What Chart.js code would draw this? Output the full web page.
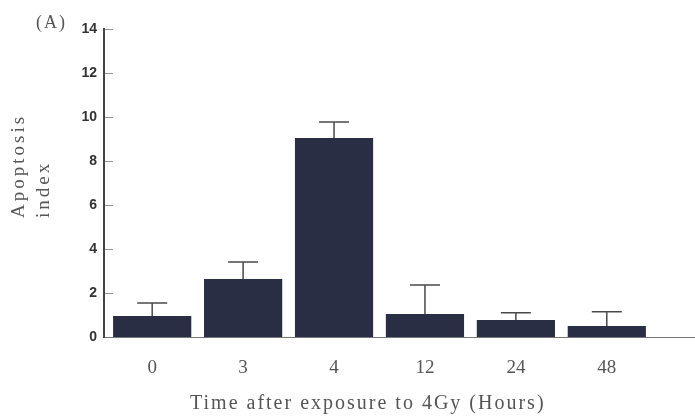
<!DOCTYPE html>
<html lang="en">
<head>
    <meta charset="UTF-8">
    <title>Apoptosis index after 4Gy</title>
    <script src="https://cdn.jsdelivr.net/npm/chart.js"></script>
    <style>
        html, body { margin: 0; padding: 0; background: #fff; }
        #wrap { width: 695px; height: 417px; position: relative; }
    </style>
</head>
<body>
    <div id="wrap"><canvas id="apoptosisChart"></canvas></div>

    <script>
        // values
        const timeLabels = ['0', '3', '4', '12', '24', '48'];
        const apoptosisIndex = [0.95, 2.64, 9.05, 1.05, 0.77, 0.5];
        const errorSD = [0.6, 0.77, 0.72, 1.31, 0.33, 0.65];
        const yTickValues = [0, 2, 4, 6, 8, 10, 12, 14];

        const serif = "'Liberation Serif', 'DejaVu Serif', serif";
        const textGrey = '#555';

        // error bars (upper half only) + inward y ticks
        const errorBars = {
            id: 'errorBars',
            afterDatasetsDraw(chart) {
                const ctx = chart.ctx;
                const x = chart.scales.x;
                const y = chart.scales.y;
                ctx.save();
                ctx.strokeStyle = '#4a4a4a';
                ctx.lineWidth = 1.5;
                apoptosisIndex.forEach((v, i) => {
                    const cx = x.getPixelForValue(i);
                    const yTop = y.getPixelForValue(v);
                    const yErr = y.getPixelForValue(v + errorSD[i]);
                    ctx.beginPath();
                    ctx.moveTo(cx, yTop);
                    ctx.lineTo(cx, yErr);
                    ctx.moveTo(cx - 15, yErr);
                    ctx.lineTo(cx + 15, yErr);
                    ctx.stroke();
                });

                ctx.strokeStyle = '#999';
                ctx.lineWidth = 1;
                const left = chart.chartArea.left;
                yTickValues.forEach(t => {
                    if (t === 0) return;
                    const py = Math.round(y.getPixelForValue(t)) + 0.5;
                    ctx.beginPath();
                    ctx.moveTo(left + 1, py);
                    ctx.lineTo(left + 9, py);
                    ctx.stroke();
                });
                ctx.restore();
            }
        };

        // panel letter and axis titles, spaced out like the print
        const figureText = {
            id: 'figureText',
            afterDraw(chart) {
                const ctx = chart.ctx;
                ctx.save();
                ctx.fillStyle = textGrey;
                ctx.textBaseline = 'alphabetic';

                ctx.font = '18px ' + serif;
                ctx.letterSpacing = '2px';
                ctx.textAlign = 'left';
                ctx.fillText('(A)', 36, 28);

                ctx.font = '20px ' + serif;
                ctx.letterSpacing = '2px';
                ctx.fillText('Time after exposure to 4Gy (Hours)', 190, 409);

                ctx.save();
                ctx.translate(0, 218);
                ctx.rotate(-Math.PI / 2);
                ctx.font = '19px ' + serif;
                ctx.letterSpacing = '3px';
                ctx.fillText('Apoptosis', 0, 24);
                ctx.fillText('index', 0, 49);
                ctx.restore();

                ctx.restore();
            }
        };

        const ctx = document.getElementById('apoptosisChart').getContext('2d');
        new Chart(ctx, {
            type: 'bar',
            data: {
                datasets: [{
                    data: apoptosisIndex.map((v, i) => ({ x: i, y: v })),
                    backgroundColor: '#2a2e45',
                    borderWidth: 0,
                    categoryPercentage: 1,
                    barPercentage: 0.86
                }]
            },
            options: {
                responsive: true,
                maintainAspectRatio: false,
                animation: false,
                layout: { padding: { top: 29, right: 0, left: 0, bottom: 0 } },
                plugins: {
                    legend: { display: false },
                    tooltip: { enabled: false }
                },
                scales: {
                    x: {
                        type: 'linear',
                        offset: false,
                        min: -0.53,
                        max: 5.97,
                        afterBuildTicks: axis => {
                            axis.ticks = timeLabels.map((_, i) => ({ value: i }));
                        },
                        afterFit: scale => { scale.height = 80; },
                        grid: { display: false, drawTicks: false },
                        border: { display: true, color: '#777', width: 1 },
                        ticks: {
                            padding: 20,
                            color: textGrey,
                            font: { family: serif, size: 19 },
                            callback: value => timeLabels[value]
                        }
                    },
                    y: {
                        min: 0,
                        max: 14,
                        afterBuildTicks: axis => {
                            axis.ticks = yTickValues.map(v => ({ value: v }));
                        },
                        afterFit: scale => { scale.width = 104; },
                        grid: { display: false, drawTicks: false },
                        border: { display: true, color: '#444', width: 2 },
                        ticks: {
                            padding: 7,
                            color: '#333',
                            font: { family: "'Liberation Sans', Arial, sans-serif", size: 14, weight: 'bold' }
                        }
                    }
                }
            },
            plugins: [errorBars, figureText]
        });
    </script>
</body>
</html>
